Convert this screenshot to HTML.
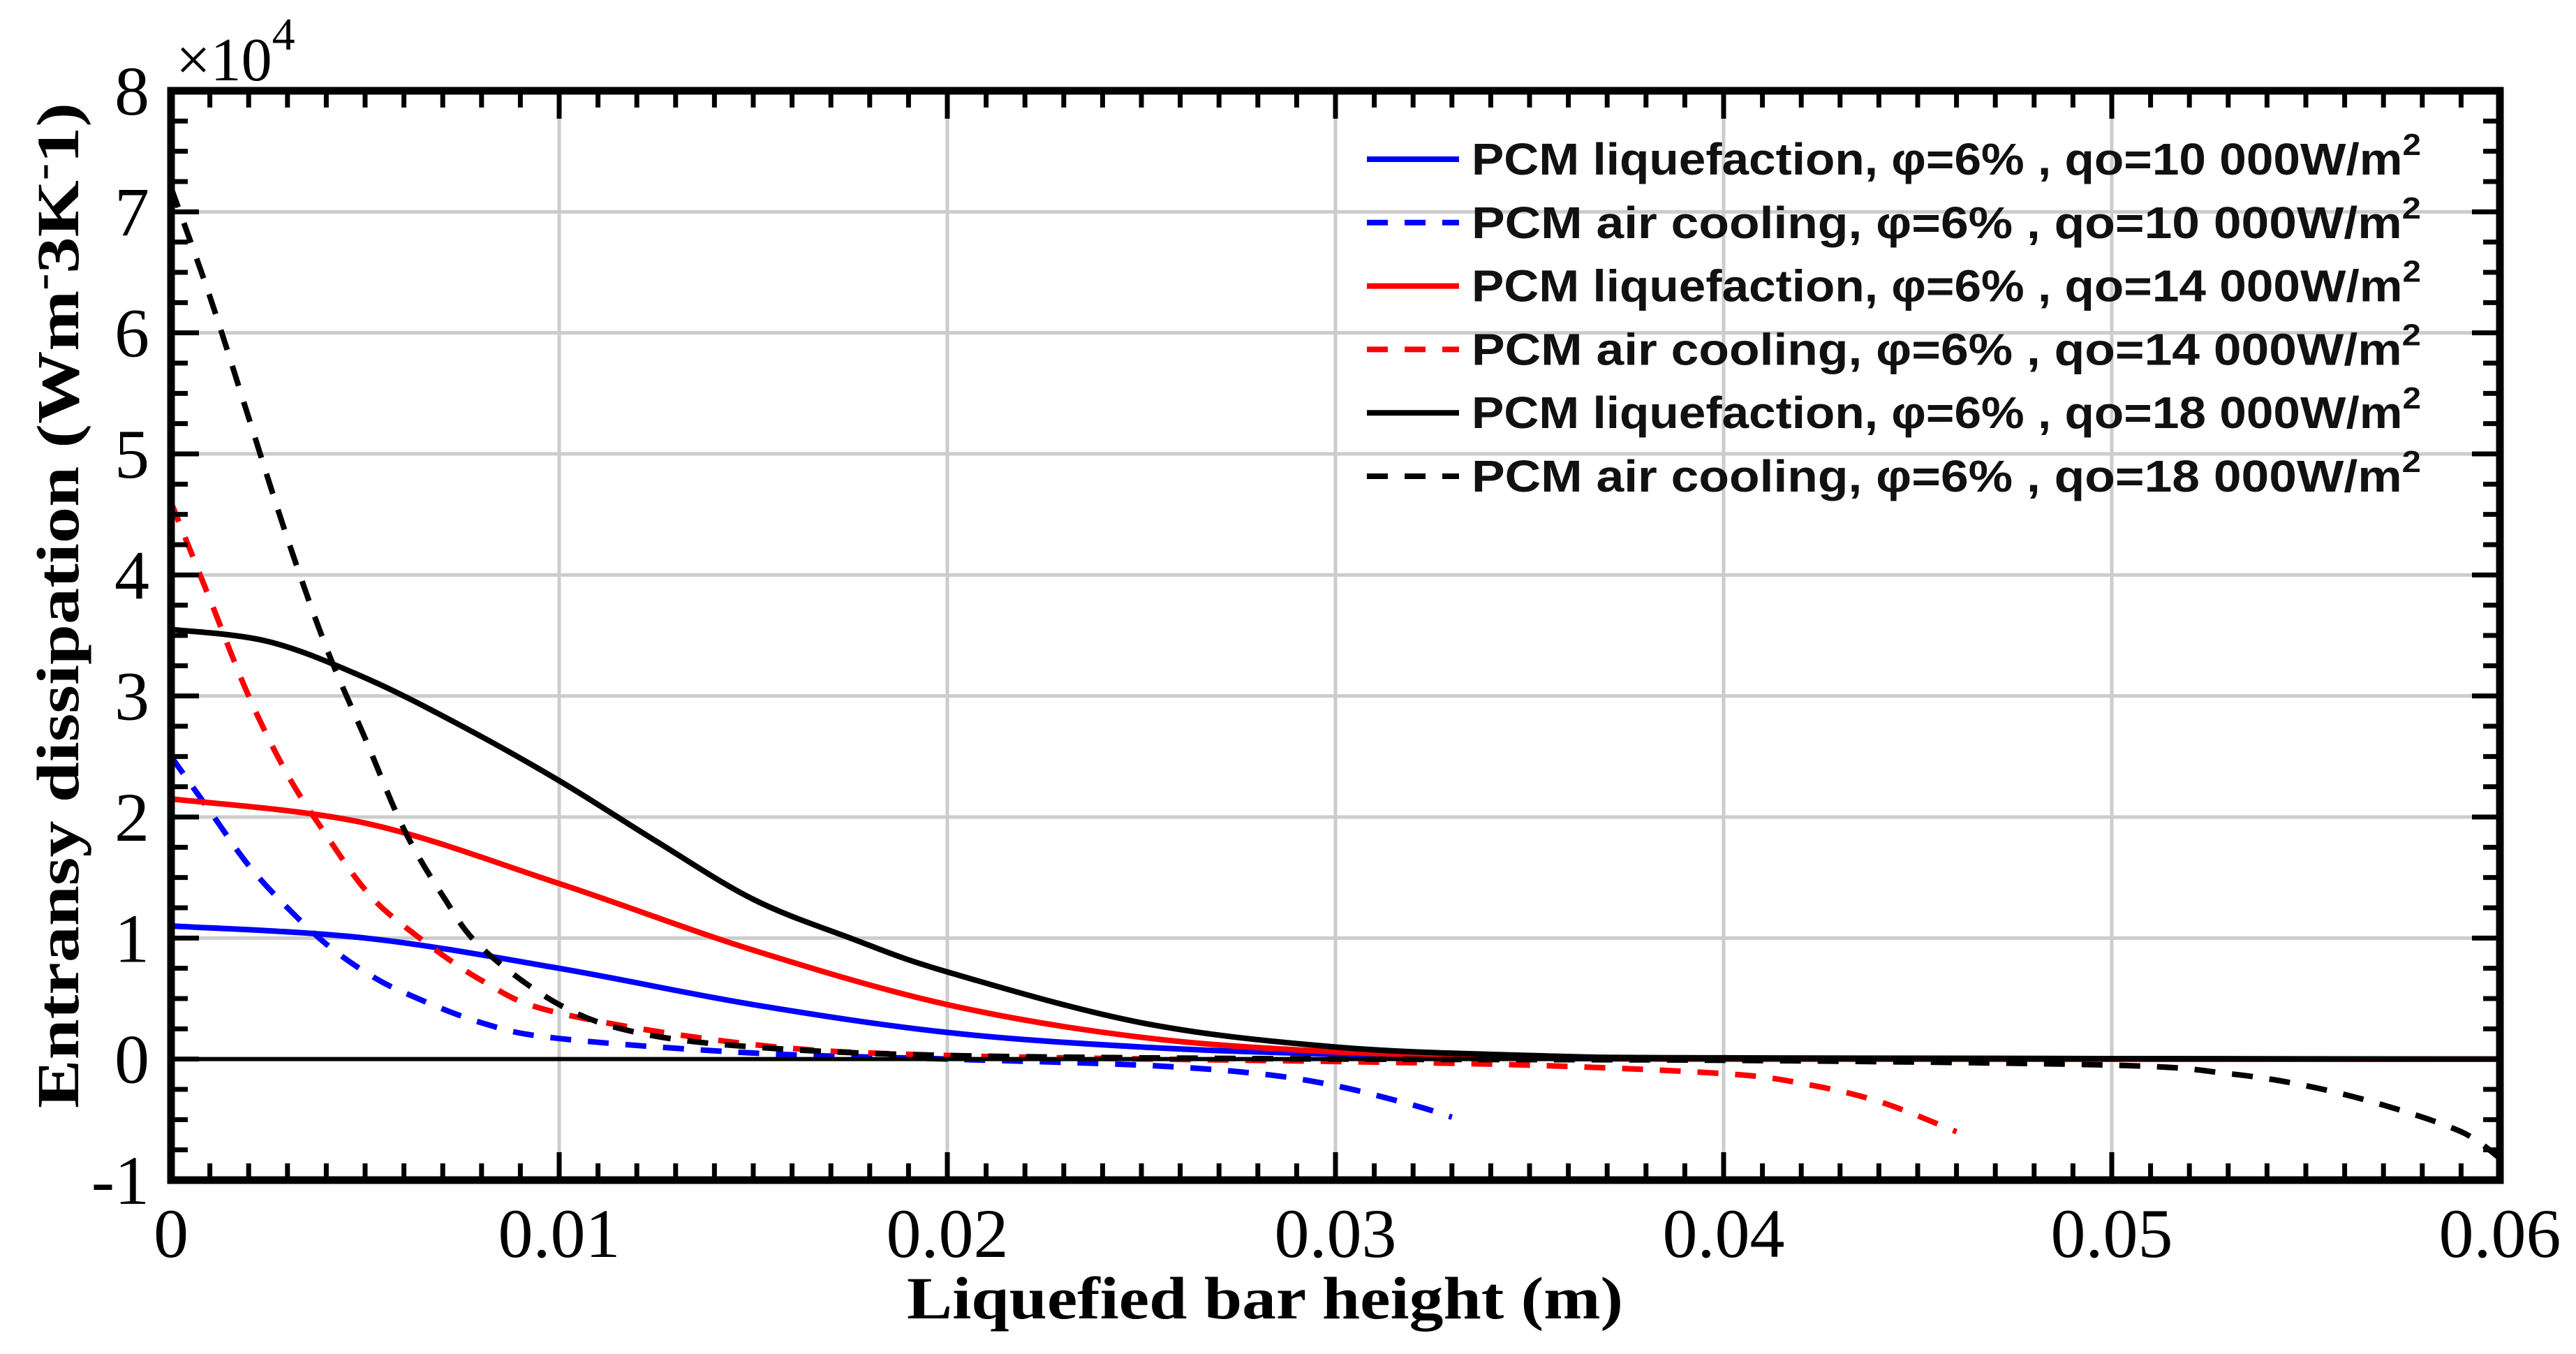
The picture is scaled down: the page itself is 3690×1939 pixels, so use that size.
<!DOCTYPE html>
<html><head><meta charset="utf-8"><style>
html,body{margin:0;padding:0;background:#fff;}
svg{display:block;}
</style></head><body>
<svg id="chart" width="3690" height="1939" viewBox="0 0 3690 1939" xmlns="http://www.w3.org/2000/svg">
<rect width="3690" height="1939" fill="#fff"/>
<g id="grid"></g>
<g id="series"></g>
<g id="axes"></g>
<g id="legend"></g>
<text x="252" y="115" font-family="Liberation Serif, serif" font-size="88">×10<tspan dy="-44" font-size="66">4</tspan></text>
<text x="1812" y="1888" text-anchor="middle" font-family="Liberation Serif, serif" font-weight="bold" font-size="86" textLength="1026" lengthAdjust="spacingAndGlyphs">Liquefied bar height (m)</text>
<text transform="translate(112,867) rotate(-90)" text-anchor="middle" font-family="Liberation Serif, serif" font-weight="bold" font-size="86" textLength="1440" lengthAdjust="spacingAndGlyphs">Entransy dissipation (Wm<tspan dy="-32" font-size="60">-</tspan><tspan dy="32">3K</tspan><tspan dy="-32" font-size="60">-</tspan><tspan dy="32">1)</tspan></text>
</svg>
<script>
const xTicks=[0,0.01,0.02,0.03,0.04,0.05,0.06];
const xTickLabels=["0","0.01","0.02","0.03","0.04","0.05","0.06"];
const yTicks=[-1,0,1,2,3,4,5,6,7,8];
const yTickLabels=["-1","0","1","2","3","4","5","6","7","8"];
const blueSolidX=[0,0.005,0.01,0.015,0.02,0.025,0.03,0.035,0.04,0.06];
const blueSolidY=[1.1,1.0,0.75,0.45,0.22,0.1,0.04,0.01,0,0];
const redSolidX=[0,0.005,0.01,0.015,0.02,0.025,0.03,0.035,0.04,0.06];
const redSolidY=[2.15,1.95,1.45,0.9,0.45,0.18,0.06,0.02,0,0];
const blackSolidX=[0,0.0025,0.005,0.0075,0.01,0.0125,0.015,0.0175,0.02,0.025,0.03,0.035,0.04,0.06];
const blackSolidY=[3.55,3.45,3.15,2.75,2.3,1.8,1.32,1.0,0.72,0.3,0.1,0.03,0.01,0];
const blueDashX=[0,0.001,0.002,0.003,0.004,0.005,0.006,0.008,0.01,0.015,0.02,0.025,0.028,0.03,0.032,0.033];
const blueDashY=[2.5,2.05,1.6,1.25,0.95,0.72,0.55,0.3,0.17,0.05,0,-0.05,-0.12,-0.22,-0.38,-0.48];
const redDashX=[0,0.001,0.002,0.003,0.004,0.005,0.006,0.008,0.01,0.015,0.02,0.03,0.035,0.04,0.042,0.044,0.046];
const redDashY=[4.6,3.8,3.0,2.35,1.85,1.4,1.1,0.65,0.38,0.12,0.03,-0.02,-0.05,-0.12,-0.2,-0.35,-0.6];
const blackDashX=[0,0.001,0.002,0.003,0.004,0.005,0.006,0.007,0.008,0.01,0.012,0.015,0.02,0.03,0.04,0.05,0.053,0.055,0.057,0.059,0.06];
const blackDashY=[7.2,6.3,5.3,4.3,3.4,2.65,1.9,1.35,0.92,0.45,0.22,0.1,0.03,0,-0.01,-0.05,-0.12,-0.22,-0.38,-0.6,-0.82];
const legendLabels=["PCM liquefaction, φ=6% , qo=10 000W/m","PCM air cooling, φ=6% , qo=10 000W/m","PCM liquefaction, φ=6% , qo=14 000W/m","PCM air cooling, φ=6% , qo=14 000W/m","PCM liquefaction, φ=6% , qo=18 000W/m","PCM air cooling, φ=6% , qo=18 000W/m"];

const NS="http://www.w3.org/2000/svg";
const L=245,R=3581,T=130,B=1690;
const xmin=0,xmax=0.06,ymin=-1,ymax=8;
function sx(v){return L+(v-xmin)/(xmax-xmin)*(R-L);}
function sy(v){return B-(v-ymin)/(ymax-ymin)*(B-T);}
function mk(tag,attrs,parent){const e=document.createElementNS(NS,tag);for(const k in attrs)e.setAttribute(k,attrs[k]);parent.appendChild(e);return e;}
const grid=document.getElementById('grid'),axes=document.getElementById('axes'),series=document.getElementById('series'),legend=document.getElementById('legend');

xTicks.forEach((v,i)=>{
  if(i>0&&i<xTicks.length-1){const g=mk('line',{x1:sx(v),x2:sx(v),y1:T,y2:B,stroke:'#cccccc','stroke-width':5},grid);
  
  }
  const t=mk('text',{x:sx(v),y:1800,'text-anchor':'middle','font-family':'Liberation Serif, serif','font-size':100},axes);
  t.textContent=xTickLabels[i];
  
  
});
yTicks.forEach((v,i)=>{
  if(i>0&&i<yTicks.length-1){const g=mk('line',{x1:L,x2:R,y1:sy(v),y2:sy(v),stroke:'#cccccc','stroke-width':5},grid);
  
  }
  const t=mk('text',{x:214,y:sy(v)+34,'text-anchor':'end','font-family':'Liberation Serif, serif','font-size':100},axes);
  t.textContent=yTickLabels[i];
  
  
});

function pathFor(xs,ys){
  const p=xs.map((x,i)=>[sx(x),sy(ys[i])]);
  let d='M'+p[0][0]+','+p[0][1];
  for(let i=0;i<p.length-1;i++){
    const p0=p[Math.max(0,i-1)],p1=p[i],p2=p[i+1],p3=p[Math.min(p.length-1,i+2)];
    const c1=[p1[0]+(p2[0]-p0[0])/6,p1[1]+(p2[1]-p0[1])/6];
    const c2=[p2[0]-(p3[0]-p1[0])/6,p2[1]-(p3[1]-p1[1])/6];
    d+=' C'+c1[0]+','+c1[1]+' '+c2[0]+','+c2[1]+' '+p2[0]+','+p2[1];
  }
  return d;
}
const defs=[
 [blueSolidX,blueSolidY,'#0000ff',false,'series-blue-liquefaction'],
 [blueDashX,blueDashY,'#0000ff',true,'series-blue-air-cooling'],
 [redSolidX,redSolidY,'#ff0000',false,'series-red-liquefaction'],
 [redDashX,redDashY,'#ff0000',true,'series-red-air-cooling'],
 [blackSolidX,blackSolidY,'#000000',false,'series-black-liquefaction'],
 [blackDashX,blackDashY,'#000000',true,'series-black-air-cooling']];
defs.forEach((s,i)=>{
  const a={d:pathFor(s[0],s[1]),fill:'none',stroke:s[2],'stroke-width':8};
  if(s[3])a['stroke-dasharray']='30 24';
  const p=mk('path',a,series);
  
  
  const ly=228+i*90.8;
  const la={x1:1958,x2:2090,y1:ly,y2:ly,stroke:s[2],'stroke-width':8};
  if(s[3])la['stroke-dasharray']='30 24';
  const ln=mk('line',la,legend);
  
  
  const t=mk('text',{x:2108,y:ly+22,'font-family':'Liberation Sans, sans-serif','font-size':64,'font-weight':'bold',fill:'#111',textLength:1360,lengthAdjust:'spacingAndGlyphs'},legend);
  t.textContent=legendLabels[i];
  const sup=mk('tspan',{dy:-28,'font-size':44},t);
  sup.textContent='2';
  
  
});

for(let k=0;k<=60;k++){
  const x=sx(k*0.001);const len=(k%10===0)?40:24;
  [[B,B-len],[T,T+len]].forEach(([a,b])=>{const l=mk('line',{x1:x,x2:x,y1:a,y2:b,stroke:'#000','stroke-width':7},axes);
  
  });
}
for(let k=0;k<=36;k++){
  const y=sy(-1+k*0.25);const len=(k%4===0)?40:24;
  [[L,L+len],[R,R-len]].forEach(([a,b])=>{const l=mk('line',{x1:a,x2:b,y1:y,y2:y,stroke:'#000','stroke-width':7},axes);
  
  });
}
const zero=mk('line',{x1:L,x2:R,y1:sy(0),y2:sy(0),stroke:'#000','stroke-width':6},series);


const frame=mk('rect',{x:L,y:T,width:R-L,height:B-T,fill:'none',stroke:'#000','stroke-width':11},axes);


</script>
</body></html>
